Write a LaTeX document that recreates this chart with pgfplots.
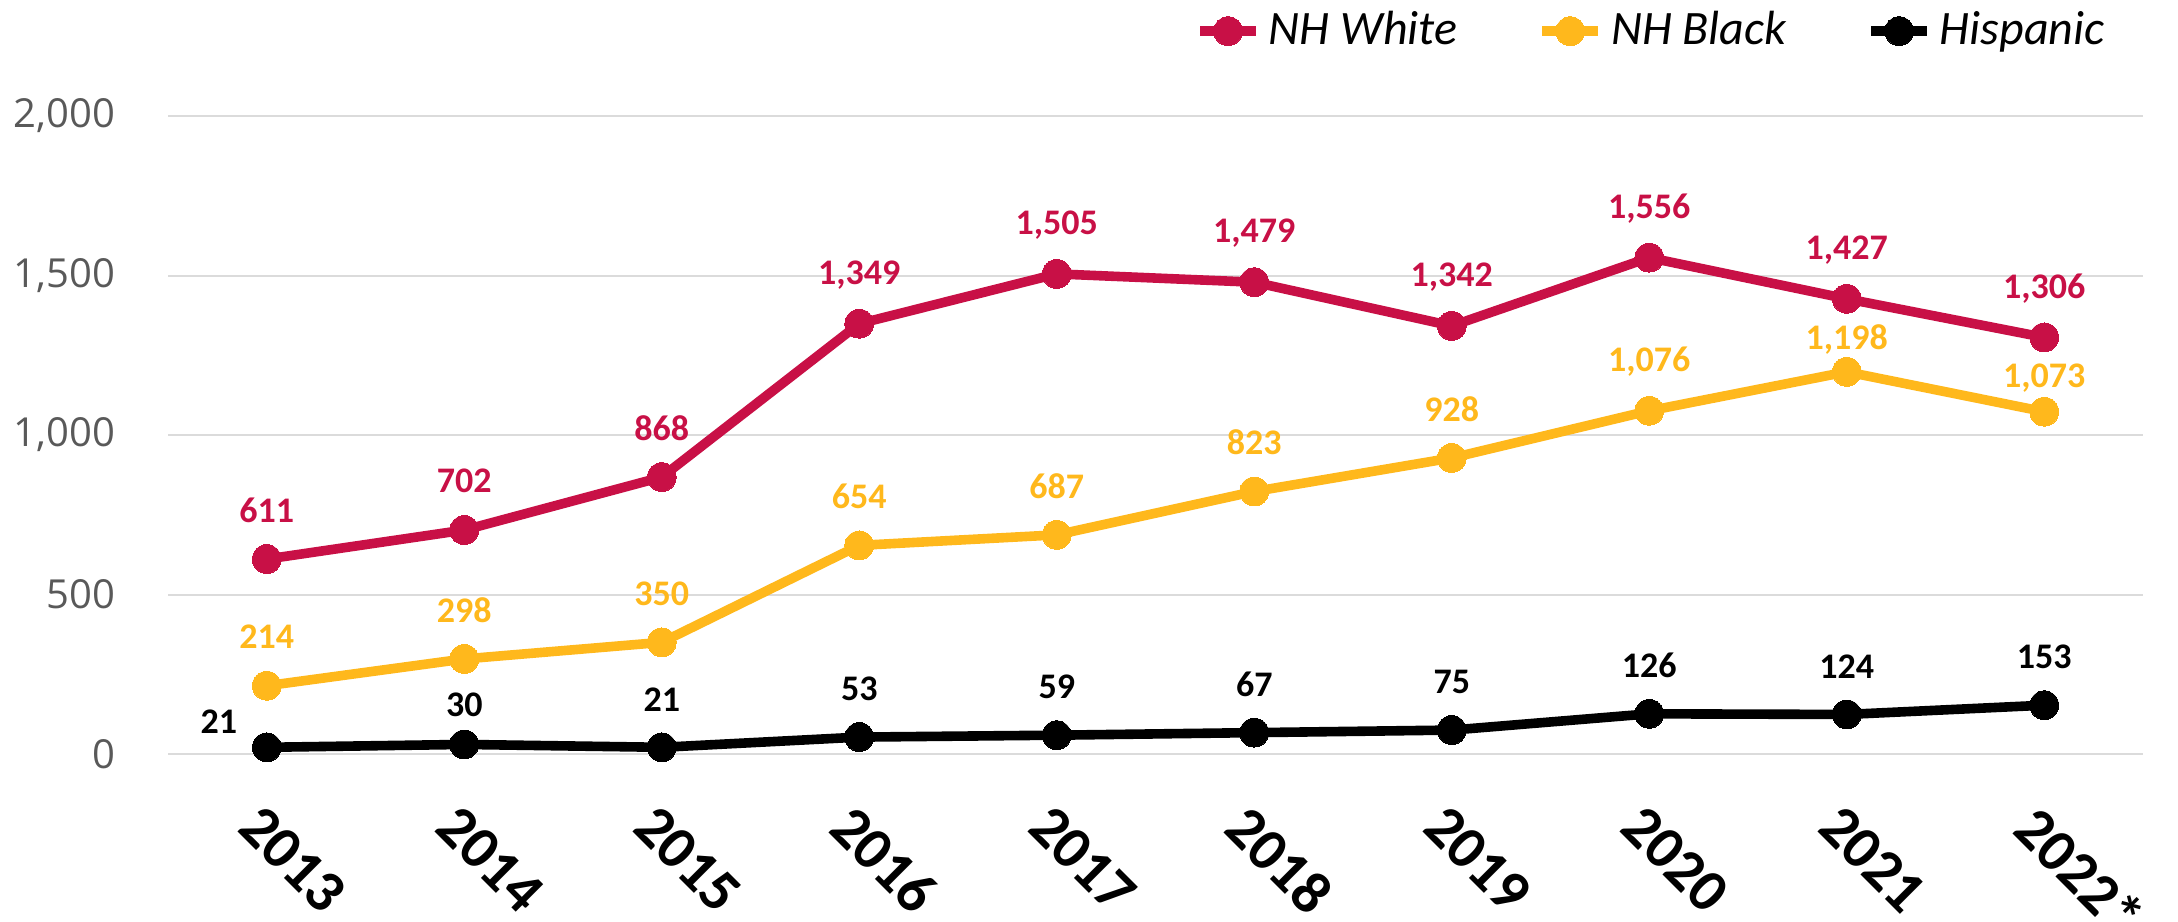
\documentclass[border=0pt]{standalone}
\usepackage{fontspec}
\setmainfont{Carlito}
\newfontfamily\opensans{Open Sans}
\usepackage{pgfplots}
\usepackage{pgfplotstable}
\pgfplotsset{compat=1.18}
\definecolor{cred}{RGB}{200,16,70}
\definecolor{cyel}{RGB}{255,184,28}
\definecolor{ygray}{RGB}{89,89,89}

\pgfplotstableread{
x y dx dy
0 611 0 12.25
1 702 0 12.25
2 868 0 12.25
3 1349 0 12.25
4 1505 0 12.25
5 1479 0 12.25
6 1342 0 12.25
7 1556 0 12.25
8 1427 0 12.25
9 1306 0 12.25
}\white
\pgfplotstableread{
x y dx dy
0 214 0 12.25
1 298 0 12.25
2 350 0 12.25
3 654 0 12.25
4 687 0 12.25
5 823 0 12.25
6 928 0 12.25
7 1076 0 12.25
8 1198 0 8
9 1073 0 8.5
}\black
\pgfplotstableread{
x y dx dy
0 21 -12 6.5
1 30 0 10
2 21 0 12
3 53 0 12
4 59 0 12
5 67 0 12
6 75 0 12
7 126 0 12
8 124 0 12
9 153 0 12
}\hisp

\begin{document}
\begin{tikzpicture}
\begin{axis}[
  scale only axis, width=493.75pt, height=159.5pt,
  xmin=-0.5, xmax=9.5, ymin=0, ymax=2000,
  xtick={0,...,9},
  xticklabels={2013,2014,2015,2016,2017,2018,2019,2020,2021,2022*},
  ytick={0,500,1000,1500,2000},
  axis line style={draw=none}, major tick length=0pt,
  ymajorgrids, major grid style={color=black!14, line width=0.5pt},
  extra y ticks={0}, extra y tick labels={},
  extra y tick style={grid style={color=black!30, line width=0.8pt}},
  clip=false,
  /pgf/number format/.cd, 1000 sep={,}, assume math mode=true, /pgfplots/.cd,
  yticklabel style={font=\opensans\fontsize{10}{12}\selectfont, color=ygray, anchor=east, xshift=-9.7pt},
  xticklabel style={font=\bfseries\fontsize{15}{18}\selectfont, rotate=-45, anchor=north west, inner sep=0pt, xshift=-1pt},
  xticklabel shift=12.5pt,
  legend style={draw=none, fill=none, at={(0.985,1.133)}, anchor=east,
    font=\itshape\fontsize{12}{14}\selectfont, inner sep=0pt,
    /tikz/every even column/.append style={column sep=18pt}},
  legend columns=3,
  legend image code/.code={\draw[line width=2.4pt] (0pt,0pt) -- (14pt,0pt);
     \draw[mark=*, mark size=3.6pt, mark options={solid, line width=0pt}] plot coordinates {(7pt,0pt)};},
  point meta=y,
  nodes near coords={\pgfmathprintnumber{\pgfplotspointmeta}},
  visualization depends on={\thisrow{dx} \as \ldx},
  visualization depends on={\thisrow{dy} \as \ldy},
  every node near coord/.append style={anchor=center, xshift=\ldx pt, yshift=\ldy pt,
     font=\bfseries\fontsize{9}{11}\selectfont},
]
\addplot[cred, line width=2.4pt, mark=*, mark size=3.6pt, mark options={solid, line width=0pt}] table[x=x,y=y] {\white};
\addlegendentry{NH White}
\addplot[cyel, line width=2.4pt, mark=*, mark size=3.6pt, mark options={solid, line width=0pt}] table[x=x,y=y] {\black};
\addlegendentry{NH Black}
\addplot[black, line width=2.4pt, mark=*, mark size=3.6pt, mark options={solid, line width=0pt}] table[x=x,y=y] {\hisp};
\addlegendentry{Hispanic}
\coordinate (bl) at (rel axis cs:0,0);
\coordinate (tr) at (rel axis cs:1,1);
\end{axis}
\pgfresetboundingbox
\path ([xshift=-42pt,yshift=-41.75pt]bl) rectangle ([xshift=8.75pt,yshift=29pt]tr);
\end{tikzpicture}
\end{document}
